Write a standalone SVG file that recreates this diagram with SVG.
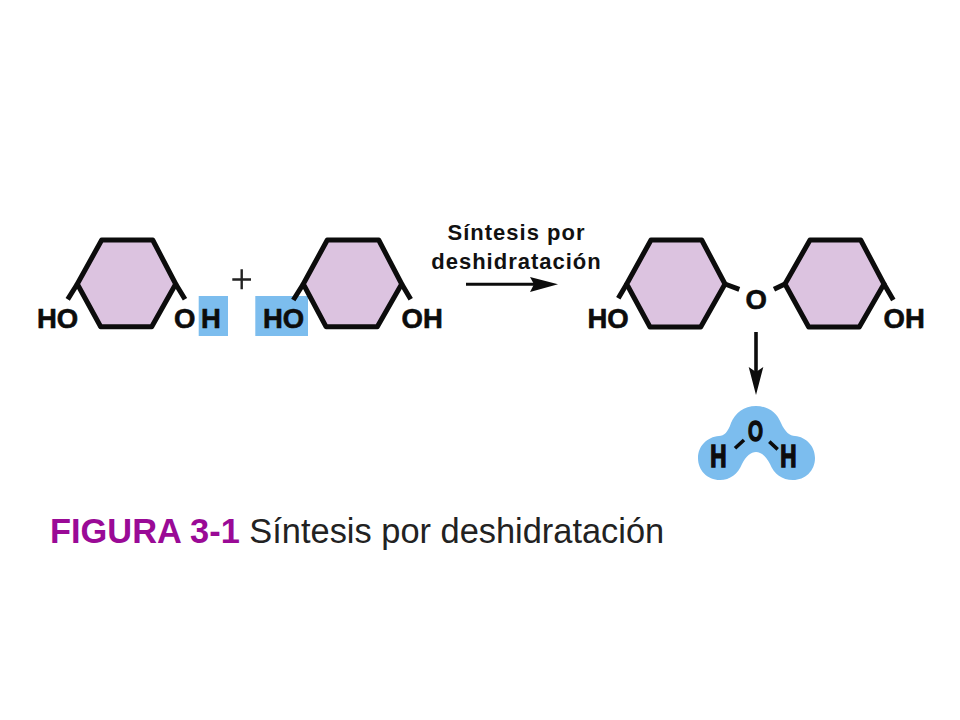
<svg xmlns="http://www.w3.org/2000/svg" width="960" height="720" viewBox="0 0 960 720">
<style>
.ring{fill:#dcc3e0;stroke:#0c0c0c;stroke-width:5;stroke-linejoin:round}
.bond{fill:none;stroke:#0c0c0c;stroke-width:5;stroke-linecap:butt}
.atom{font-family:"Liberation Sans",Arial,sans-serif;font-weight:700;font-size:27.5px;fill:#0c0c0c;stroke:#0c0c0c;stroke-width:.6}
.wat{text-anchor:middle;stroke-width:1.400}
.lab{font-family:"Liberation Sans",Arial,sans-serif;font-weight:700;font-size:22px;letter-spacing:1px;fill:#111;text-anchor:middle}
.cap{font-family:"Liberation Sans",Arial,sans-serif;font-size:34.400px}
.blue{fill:#7cbdee}
</style>
<rect width="960" height="720" fill="#fff"/>
<g id="highlight-h"><rect class="blue" x="198.700" y="296" width="29.300" height="40"/></g>
<g id="highlight-ho"><rect class="blue" x="255.300" y="296" width="52.700" height="40"/></g>
<g id="ring-1">
<polygon class="ring" points="101.700,240 152.700,240 175.700,284 151.700,326.700 100.700,326.700 77.300,284"/>
<path class="bond" d="M77.300 284L67.700 299.300M175.700 284L185 299.300"/>
<text class="atom" x="37" y="327.500">HO</text><text class="atom" x="174" y="327.500">O</text><text class="atom" x="201" y="327.500">H</text>
</g>
<g id="plus"><path d="M232.300 279.500H251M241.700 269.300V289.300" fill="none" stroke="#222" stroke-width="2.400"/></g>
<g id="ring-2">
<polygon class="ring" points="327.300,240 378.700,240 401.700,284 377.300,326.700 326,326.700 303.300,284"/>
<path class="bond" d="M303.300 284L293.300 300M401.700 284L410.700 299.300"/>
<text class="atom" x="263" y="327.500">HO</text><text class="atom" x="401.500" y="327.500">OH</text>
</g>
<g id="ring-3">
<polygon class="ring" points="651,240 701.700,240 725,284 700.700,327 650,327 626.700,284"/>
<path class="bond" d="M626.700 284L618.300 298.300M725 284L739.300 289.300"/>
<text class="atom" x="587.500" y="327.500">HO</text>
</g>
<g id="ring-4">
<polygon class="ring" points="810,240 860.700,240 884,284 859.300,327 808.700,327 785,284"/>
<path class="bond" d="M785 284L774 289.300M884 284L893.300 300"/>
<text class="atom" x="883.500" y="327.500">OH</text>
</g>
<g id="oxygen"><text class="atom" x="745.500" y="309">O</text></g>
<g id="label"><text class="lab" x="516.500" y="240">Síntesis por</text><text class="lab" x="516.500" y="269">deshidratación</text></g>
<g id="connectors">
<path d="M466 284.300H535" fill="none" stroke="#0c0c0c" stroke-width="3"/>
<polygon points="558,284.300 530,277 534,284.300 530,292" fill="#0c0c0c"/>
<path d="M756 332V372" fill="none" stroke="#0c0c0c" stroke-width="3.600"/>
<polygon points="756,395 748.700,367 756,372 763.300,367" fill="#0c0c0c"/>
</g>
<g id="water">
<path class="blue" d="M756 406C768 406 777 413 781 423C785 432 790 436 795 436C806 437 815 446 815 458C815 471 805 480 793 480C782 480 774 474 770 464C766 456 761 452 756 452C751 452 746 456 742 464C738 474 730 480 720 480C707 480 698 470 698 458C698 446 707 437 719 436C724 436 728 432 731 423C735 413 744 406 756 406Z"/>
<text class="atom wat" transform="translate(718.500 467) scale(.82 1.12)">H</text>
<text class="atom wat" transform="translate(788.500 467) scale(.82 1.12)">H</text>
<text class="atom wat" transform="translate(755.500 440.500) scale(.7 1.06)">O</text>
<path d="M735 448.300L744 440M769.300 441.700L777.700 449.300" fill="none" stroke="#0c0c0c" stroke-width="3.600"/>
</g>
<g id="caption"><text class="cap" x="50" y="543"><tspan fill="#9a0a96" font-weight="700">FIGURA 3-1</tspan><tspan fill="#222"> Síntesis por deshidratación</tspan></text></g>
</svg>
